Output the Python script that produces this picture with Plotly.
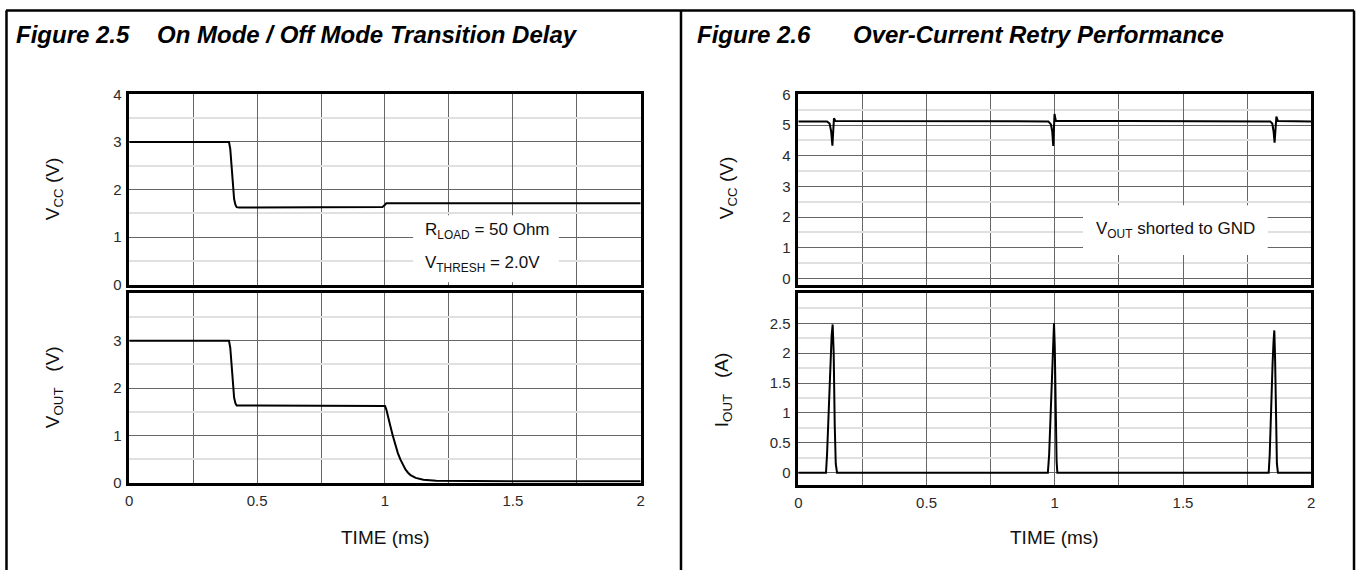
import plotly.graph_objects as go

# ---------------- data ----------------
# Figure 2.5 - top panel: VCC (V) vs time (ms)
t_vcc_a = [0.0, 0.1, 0.2, 0.3, 0.39, 0.395, 0.40, 0.405, 0.41, 0.415, 0.42, 0.43,
           0.6, 0.8, 0.99, 1.0, 1.005, 1.5, 2.0]
vcc_a = [3.0, 3.0, 3.0, 3.0, 3.0, 2.85, 2.45, 2.05, 1.8, 1.68, 1.63, 1.62,
         1.62, 1.63, 1.63, 1.68, 1.71, 1.71, 1.71]

# Figure 2.5 - bottom panel: VOUT (V) vs time (ms)
t_vout = [0.0, 0.1, 0.2, 0.3, 0.39, 0.395, 0.40, 0.405, 0.41, 0.415, 0.42, 0.43,
          0.6, 0.8, 0.995, 1.0, 1.005, 1.01, 1.02, 1.03, 1.04, 1.05, 1.06, 1.07,
          1.08, 1.09, 1.10, 1.12, 1.15, 1.2, 1.3, 1.5, 2.0]
vout = [3.0, 3.0, 3.0, 3.0, 3.0, 2.85, 2.45, 2.05, 1.8, 1.68, 1.63, 1.63,
        1.63, 1.63, 1.63, 1.62, 1.55, 1.42, 1.22, 1.0, 0.8, 0.63, 0.49, 0.37,
        0.28, 0.21, 0.16, 0.10, 0.06, 0.04, 0.035, 0.03, 0.03]

# Figure 2.6 - top panel: VCC (V) vs time (ms)
t_vcc_b = [0.0, 0.112, 0.122, 0.128, 0.133, 0.136, 0.139, 0.145,
           0.975, 0.985, 0.990, 0.994, 0.997, 0.999, 1.004,
           1.84, 1.848, 1.853, 1.857, 1.861, 1.864, 1.87, 2.0]
vcc_b = [5.12, 5.12, 5.05, 4.8, 4.33, 4.9, 5.22, 5.13,
         5.12, 5.02, 4.8, 4.32, 5.0, 5.36, 5.14,
         5.12, 5.05, 4.8, 4.43, 5.0, 5.28, 5.13, 5.12]

# Figure 2.6 - bottom panel: IOUT (A) vs time (ms)
t_iout = [0.0, 0.108, 0.112, 0.118, 0.124, 0.130, 0.134, 0.138, 0.142, 0.146, 0.151,
          0.973, 0.978, 0.984, 0.990, 0.994, 0.997, 1.000, 1.004, 1.007, 1.010,
          1.834, 1.838, 1.843, 1.849, 1.853, 1.856, 1.859, 1.862, 1.866, 1.870, 2.0]
iout = [0.0, 0.0, 0.3, 1.0, 1.8, 2.3, 2.48, 2.0, 0.8, 0.15, 0.0,
        0.0, 0.3, 1.0, 1.9, 2.35, 2.5, 2.1, 0.9, 0.2, 0.0,
        0.0, 0.3, 1.1, 1.8, 2.2, 2.38, 1.9, 0.9, 0.15, 0.0, 0.0]

x_ticks = [0, 0.5, 1, 1.5, 2]
x_minor = [0.25, 0.75, 1.25, 1.75]
y_ticks_vcc_a = [0, 1, 2, 3, 4]
y_ticks_vout = [0, 1, 2, 3]
y_minor_a = [0.5, 1.5, 2.5, 3.5]
y_ticks_vcc_b = [0, 1, 2, 3, 4, 5, 6]
y_minor_vcc_b = [0.5, 1.5, 2.5, 3.5, 4.5, 5.5]
y_ticks_iout = [0, 0.5, 1, 1.5, 2, 2.5]
y_minor_iout = [0.25, 0.75, 1.25, 1.75, 2.25, 2.75]

# ---------------- layout helpers ----------------
W, H = 1360, 578
FONT = "Liberation Sans, Arial, sans-serif"
GRID = "#666666"
MINOR = "#e0e0e0"


def fx(p):
    return p / W


def fy(p):
    return 1 - p / H


LX = [fx(126), fx(640.5)]
RX = [fx(799), fx(1315)]
TOP = [fy(284), fy(88)]
BOT_L = [fy(488), fy(293)]
BOT_R = [fy(490), fy(293)]

fig = go.Figure()
line = dict(color="black", width=2)
fig.add_trace(go.Scatter(x=t_vcc_a, y=vcc_a, mode="lines", line=line, xaxis="x", yaxis="y"))
fig.add_trace(go.Scatter(x=t_vout, y=vout, mode="lines", line=line, xaxis="x2", yaxis="y2"))
fig.add_trace(go.Scatter(x=t_vcc_b, y=vcc_b, mode="lines", line=line, xaxis="x3", yaxis="y3"))
fig.add_trace(go.Scatter(x=t_iout, y=iout, mode="lines", line=line, xaxis="x4", yaxis="y4"))

TICKFONT = dict(family=FONT, size=15, color="#2a2a2a")


def xax(domain, anchor, labels):
    return dict(domain=domain, anchor=anchor, range=[0, 2], tickvals=x_ticks,
                showticklabels=labels, showgrid=True, gridcolor=GRID, gridwidth=1,
                minor=dict(tickvals=x_minor, showgrid=True, gridcolor=GRID, gridwidth=1),
                showline=True, mirror=True, linecolor="black", linewidth=2.5,
                zeroline=False, ticks="", ticklabelstandoff=3,
                tickfont=TICKFONT, fixedrange=True)


def yax(domain, anchor, rng, ticks, minor):
    return dict(domain=domain, anchor=anchor, range=rng, tickvals=ticks,
                showgrid=True, gridcolor=GRID, gridwidth=1,
                minor=dict(tickvals=minor, showgrid=True, gridcolor=MINOR, gridwidth=1.5),
                showline=True, mirror=True, linecolor="black", linewidth=2.5,
                zeroline=False, ticks="", ticklabelstandoff=2,
                tickfont=TICKFONT, fixedrange=True)


shapes = []
# text boxes (white) hiding the grid behind the notes
shapes.append(dict(type="rect", xref="x", yref="y", x0=1.11, x1=1.68, y0=0.05, y1=1.46,
                   fillcolor="white", line=dict(width=0), layer="above"))
shapes.append(dict(type="rect", xref="x3", yref="y3", x0=1.11, x1=1.83, y0=0.77, y1=2.39,
                   fillcolor="white", line=dict(width=0), layer="above"))
# outer frame of the two figure cells
frame = dict(color="black", width=2.5)
shapes += [
    dict(type="line", xref="paper", yref="paper", x0=fx(2), x1=fx(1358), y0=fy(1.5), y1=fy(1.5), line=frame),
    dict(type="line", xref="paper", yref="paper", x0=fx(2.5), x1=fx(2.5), y0=fy(1.5), y1=0, line=frame),
    dict(type="line", xref="paper", yref="paper", x0=fx(681), x1=fx(681), y0=fy(1.5), y1=0, line=frame),
    dict(type="line", xref="paper", yref="paper", x0=fx(1358), x1=fx(1358), y0=fy(1.5), y1=0, line=frame),
]

ann = []
tfont = dict(family=FONT, size=24, color="black")


def ptext(text, x, y, size=19, angle=0, xanchor="center", font=None):
    return dict(text=text, xref="paper", yref="paper", x=fx(x), y=fy(y), showarrow=False,
                textangle=angle, xanchor=xanchor, yanchor="middle",
                font=font or dict(family=FONT, size=size, color="#111"))


ann.append(ptext("<b><i>Figure 2.5</i></b>", 10, 26, xanchor="left", font=tfont))
ann.append(ptext("<b><i>On Mode / Off Mode Transition Delay</i></b>", 152, 26, xanchor="left", font=tfont))
ann.append(ptext("<b><i>Figure 2.6</i></b>", 695, 26, xanchor="left", font=tfont))
ann.append(ptext("<b><i>Over-Current Retry Performance</i></b>", 852, 26, xanchor="left", font=tfont))

ann.append(ptext("V<sub>CC</sub> (V)", 50, 185, angle=-90))
ann.append(ptext("V<sub>OUT</sub>   (V)", 50, 390, angle=-90))
ann.append(ptext("V<sub>CC</sub> (V)", 728, 184, angle=-90))
ann.append(ptext("I<sub>OUT</sub>   (A)", 724, 392, angle=-90))
ann.append(ptext("TIME (ms)", 384, 544))
ann.append(ptext("TIME (ms)", 1057, 545))

nfont = dict(family=FONT, size=17, color="#111")
ann.append(dict(text="R<sub>LOAD</sub> = 50 Ohm", xref="x", yref="y", x=1.15, y=1.12,
                showarrow=False, xanchor="left", yanchor="middle", font=nfont))
ann.append(dict(text="V<sub>THRESH</sub> = 2.0V", xref="x", yref="y", x=1.15, y=0.44,
                showarrow=False, xanchor="left", yanchor="middle", font=nfont))
ann.append(dict(text="V<sub>OUT</sub> shorted to GND", xref="x3", yref="y3", x=1.47, y=1.58,
                showarrow=False, xanchor="center", yanchor="middle", font=nfont))

fig.update_layout(
    width=W, height=H, margin=dict(l=0, r=0, t=0, b=0),
    paper_bgcolor="white", plot_bgcolor="white", showlegend=False,
    xaxis=xax(LX, "y", False),
    yaxis=yax(TOP, "x", [0, 4], y_ticks_vcc_a, y_minor_a),
    xaxis2=xax(LX, "y2", True),
    yaxis2=yax(BOT_L, "x2", [0, 4], y_ticks_vout, y_minor_a),
    xaxis3=xax(RX, "y3", False),
    yaxis3=yax(TOP, "x3", [-0.2, 6], y_ticks_vcc_b, y_minor_vcc_b),
    xaxis4=xax(RX, "y4", True),
    yaxis4=yax(BOT_R, "x4", [-0.2, 3.0], y_ticks_iout, y_minor_iout),
    shapes=shapes, annotations=ann,
)

fig.write_html("out.html", config={"displayModeBar": False},
               post_script="document.body.style.margin='0px';")
